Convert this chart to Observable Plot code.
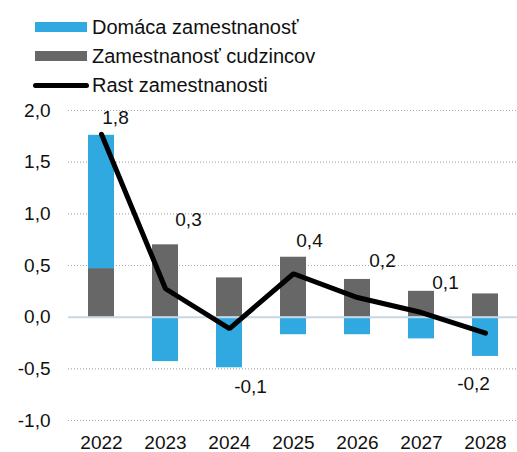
<!DOCTYPE html>
<html>
<head>
<meta charset="utf-8">
<script src="https://cdn.jsdelivr.net/npm/d3@7"></script>
<script src="https://cdn.jsdelivr.net/npm/@observablehq/plot@0.6"></script>
<style>
  html, body { margin: 0; padding: 0; background: #fff; }
  body { width: 517px; height: 452px; overflow: hidden; font-family: "Liberation Sans", Arial, sans-serif; }
  #legend { position: relative; height: 100px; }
  .sw { position: absolute; }
  .lt { position: absolute; font-size: 20px; color: #111; line-height: 22px; white-space: nowrap; }
  #chart svg { display: block; }
</style>
</head>
<body>
<div id="legend"></div>
<div id="chart"></div>
<script>
const years = ["2022", "2023", "2024", "2025", "2026", "2027", "2028"];
const domestic = [1.29, -0.43, -0.49, -0.17, -0.17, -0.21, -0.38];
const foreign = [0.47, 0.70, 0.38, 0.58, 0.365, 0.25, 0.225];
const growth = [1.77, 0.275, -0.11, 0.42, 0.19, 0.045, -0.155];
const growthLabels = ["1,8", "0,3", "-0,1", "0,4", "0,2", "0,1", "-0,2"];
const yTicks = [-1, -0.5, 0, 0.5, 1, 1.5, 2];
const seriesNames = ["Domáca zamestnanosť", "Zamestnanosť cudzincov", "Rast zamestnanosti"];

const colors = {dom: "#2fa9e0", for: "#676767", line: "#000"};

// legend
const legend = document.getElementById("legend");
const items = [
  {name: seriesNames[0], type: "bar", color: colors.dom, cy: 27},
  {name: seriesNames[1], type: "bar", color: colors.for, cy: 56},
  {name: seriesNames[2], type: "line", color: colors.line, cy: 85}
];
for (const it of items) {
  const sw = document.createElement("div");
  sw.className = "sw";
  if (it.type === "bar") {
    Object.assign(sw.style, {left: "35px", width: "52px", top: (it.cy - 5) + "px", height: "10px", background: it.color});
  } else {
    Object.assign(sw.style, {left: "33px", width: "56px", top: (it.cy - 2.5) + "px", height: "5px", background: it.color, borderRadius: "3px"});
  }
  legend.appendChild(sw);
  const t = document.createElement("div");
  t.className = "lt";
  t.textContent = it.name;
  Object.assign(t.style, {left: "92px", top: (it.cy - 11) + "px"});
  legend.appendChild(t);
}

const barData = [];
years.forEach((y, i) => {
  barData.push({year: y, series: "foreign", value: foreign[i]});
  barData.push({year: y, series: "domestic", value: domestic[i]});
});
const lineData = years.map((y, i) => ({year: y, value: growth[i], label: growthLabels[i]}));

const fmt = d3.formatLocale({decimal: ",", thousands: " ", grouping: [3], currency: ["", ""], minus: "-"}).format(".1f");

// label offsets (px) relative to line points
const labelOffsets = [[14, -16], [23, -69], [21, 58], [16, -33], [25, -37], [24, -30], [-12, 51]];

const labelMarks = lineData.map((d, i) => Plot.text([d], {
  x: "year", y: "value", text: "label",
  dx: labelOffsets[i][0], dy: labelOffsets[i][1],
  fontSize: 19, fill: "#111"
}));

const chart = Plot.plot({
  width: 517,
  height: 352,
  marginLeft: 68,
  marginRight: 0,
  marginTop: 10,
  marginBottom: 32,
  style: {fontFamily: "'Liberation Sans', Arial, sans-serif", fontSize: "19px", color: "#111", background: "#fff"},
  x: {type: "band", domain: years, paddingInner: 0.6, paddingOuter: 0.3, label: null},
  y: {domain: [-1, 2], ticks: yTicks, label: null, tickFormat: fmt},
  color: {domain: ["foreign", "domestic"], range: [colors.for, colors.dom]},
  marks: [
    Plot.gridY(yTicks.filter(d => d !== 0), {stroke: "#aaaaaa", strokeOpacity: 1, strokeDasharray: "1,2", strokeWidth: 1.2}),
    Plot.barY(barData, Plot.stackY({x: "year", y: "value", fill: "series", order: ["foreign", "domestic"]})),
    Plot.ruleY([0], {stroke: "#c9d6e4", strokeWidth: 2}),
    Plot.line(lineData, {x: "year", y: "value", stroke: colors.line, strokeWidth: 5, strokeLinecap: "round", strokeLinejoin: "miter"}),
    ...labelMarks,
    Plot.axisY({ticks: yTicks, tickSize: 0, tickPadding: 18, tickFormat: fmt, fontSize: 19, label: null}),
    Plot.axisX({tickSize: 0, tickPadding: 15, fontSize: 19, label: null})
  ]
});
document.getElementById("chart").appendChild(chart);
</script>
</body>
</html>
